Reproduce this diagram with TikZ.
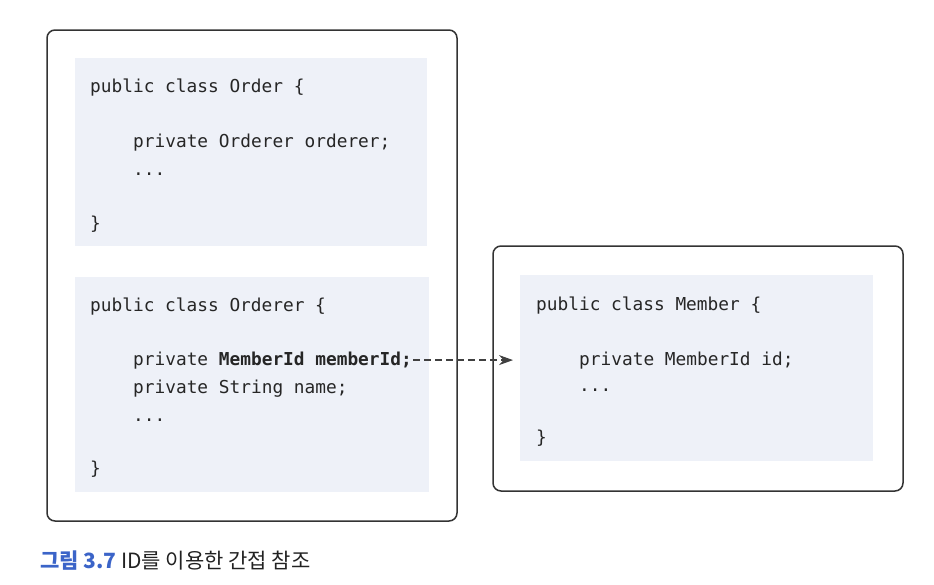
\documentclass[tikz,border=0pt]{standalone}
\usepackage{fontspec}
\newfontfamily\codefont{DejaVu Sans Mono}
\newfontfamily\krfont{Noto Sans CJK KR}
\usetikzlibrary{arrows.meta}
\definecolor{codebg}{HTML}{EEF1F8}
\definecolor{frame}{HTML}{333333}
\definecolor{capblue}{HTML}{3B64C8}
\definecolor{captext}{HTML}{222222}
\tikzset{
  outerbox/.style={draw=frame, line width=1.5pt, rounded corners=8pt, fill=white},
  codebox/.style={fill=codebg, draw=none},
  codeline/.style={anchor=base west, inner sep=0pt, text=black!85,
    font=\codefont\fontsize{17.8}{20}\selectfont},
  refarrow/.style={draw=black!75, line width=1.3pt, dash pattern=on 7pt off 4pt,
    -{Stealth[length=14pt,width=10pt]}},
}
\begin{document}
\begin{tikzpicture}[x=1pt,y=-1pt]
\useasboundingbox (0,0) rectangle (934,584);
% boxes
\draw[outerbox] (47,30) rectangle (457,521);
\draw[outerbox] (493,246) rectangle (903,491);
\fill[codebox] (75,58) rectangle (427,246);
\fill[codebox] (75,277) rectangle (429,492);
\fill[codebox] (520,275) rectangle (873,461);
% Order
\node[codeline] (o1) at (90,92) {public class Order \{};
\node[codeline] (o2) at (133,147) {private Orderer orderer;};
\node[codeline] (o3) at (133,175) {...};
\node[codeline] (o4) at (90,229) {\}};
% Orderer
\node[codeline] (r1) at (90,311) {public class Orderer \{};
\node[codeline] (r2) at (133,365) {private \textbf{MemberId memberId;}};
\node[codeline] (r3) at (133,393) {private String name;};
\node[codeline] (r4) at (133,421) {...};
\node[codeline] (r5) at (90,474) {\}};
% Member
\node[codeline] (m1) at (536,310) {public class Member \{};
\node[codeline] (m2) at (579,365) {private MemberId id;};
\node[codeline] (m3) at (579,391) {...};
\node[codeline] (m4) at (536,443) {\}};
% arrow
\coordinate (tip) at (513,358);
\draw[refarrow] ([xshift=1pt]r2.east) -- (r2.east -| tip);
% caption
\node[anchor=base west, inner sep=0pt, font=\krfont\fontsize{21}{25}\selectfont] (cap) at (40,568)
  {\textcolor{capblue}{\textbf{그림 3.7}} \textcolor{captext}{ID를 이용한 간접 참조}};
\end{tikzpicture}
\end{document}
